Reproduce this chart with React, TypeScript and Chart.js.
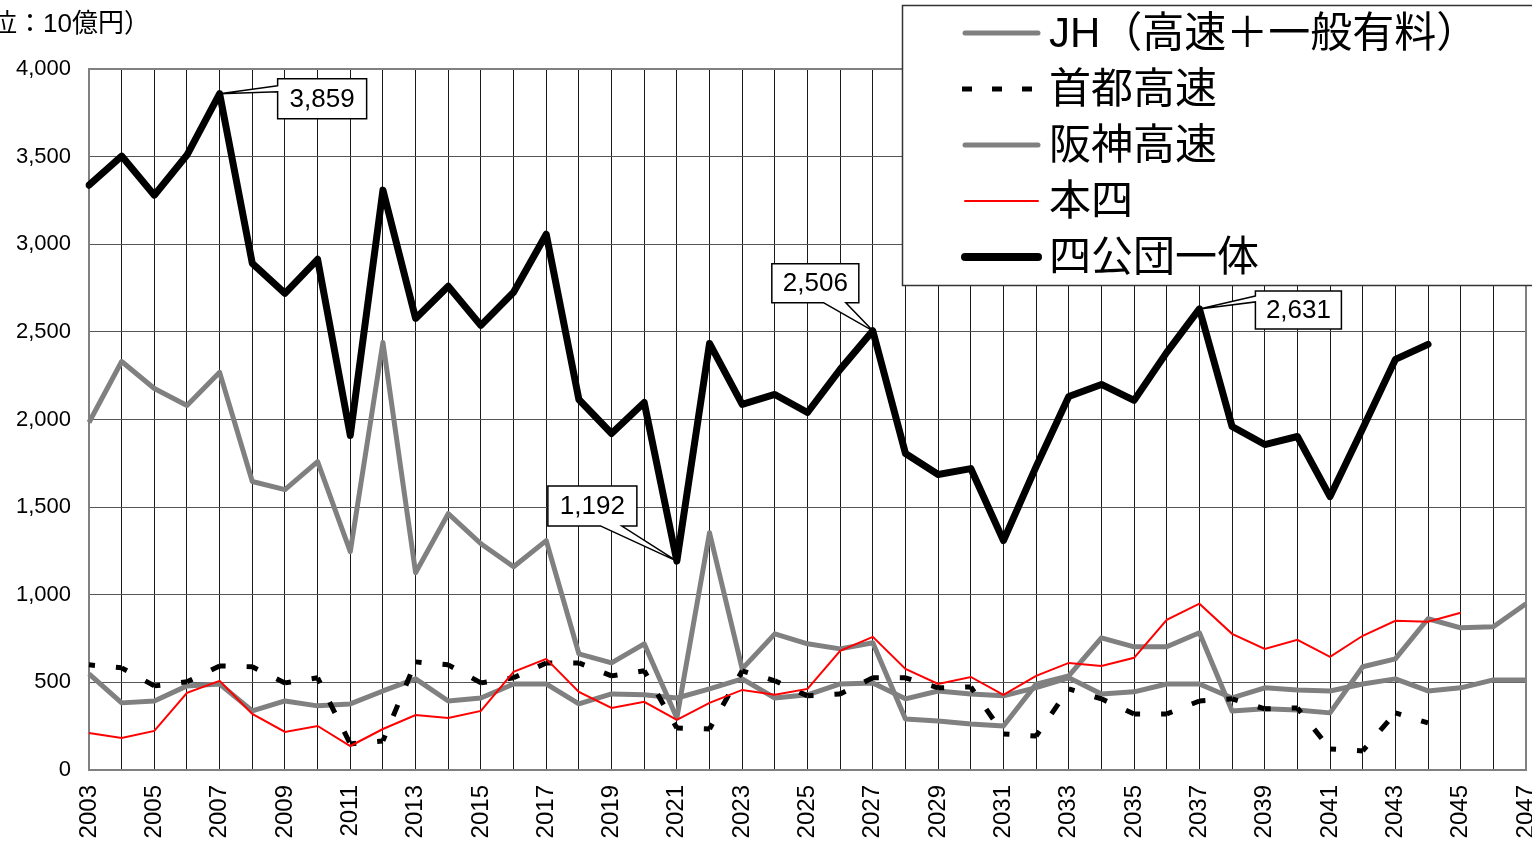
import React, { useEffect, useRef } from 'react';
import { Chart, registerables } from 'chart.js';

Chart.register(...registerables);

const years = [
  '2003', '2004', '2005', '2006', '2007', '2008', '2009', '2010', '2011', '2012',
  '2013', '2014', '2015', '2016', '2017', '2018', '2019', '2020', '2021', '2022',
  '2023', '2024', '2025', '2026', '2027', '2028', '2029', '2030', '2031', '2032',
  '2033', '2034', '2035', '2036', '2037', '2038', '2039', '2040', '2041', '2042',
  '2043', '2044', '2045', '2046', '2047',
];

const jh = [
  1983, 2331, 2177, 2080, 2269, 1646, 1600, 1760, 1246, 2440,
  1126, 1463, 1291, 1160, 1309, 663, 611, 720, 297, 1354,
  577, 777, 720, 691, 726, 291, 280, 263, 251, 490,
  537, 754, 703, 703, 783, 337, 349, 343, 326, 589,
  634, 863, 811, 817, 949,
];

const shuto = [
  600, 583, 480, 503, 594, 589, 497, 526, 149, 166,
  617, 600, 497, 526, 611, 611, 537, 566, 240, 234,
  566, 509, 423, 434, 526, 526, 469, 474, 206, 194,
  463, 406, 320, 320, 394, 406, 349, 354, 120, 109,
  326, 269, null, null, null,
];

const hanshin = [
  549, 383, 394, 480, 491, 337, 394, 366, 377, 451,
  520, 394, 411, 491, 491, 377, 434, 429, 411, 463,
  520, 411, 429, 491, 497, 406, 451, 434, 423, 470,
  526, 434, 446, 491, 491, 411, 469, 457, 451, 491,
  520, 451, 469, 514, 514,
];

const honshi = [
  211, 183, 223, 440, 509, 320, 217, 251, 137, 234,
  314, 297, 337, 560, 634, 446, 354, 389, 286, 383,
  457, 429, 463, 680, 760, 577, 491, 531, 429, 537,
  611, 594, 640, 857, 949, 777, 691, 743, 646, 766,
  851, 846, 897, null, null,
];

const yonKodan = [
  3337, 3503, 3280, 3509, 3859, 2891, 2720, 2914, 1909, 3309,
  2577, 2760, 2537, 2726, 3057, 2114, 1920, 2097, 1192, 2434,
  2086, 2143, 2040, 2286, 2506, 1806, 1686, 1720, 1309, 1731,
  2131, 2200, 2109, 2383, 2631, 1960, 1857, 1903, 1560, 1949,
  2343, 2429, null, null, null,
];

const yTicks = [0, 500, 1000, 1500, 2000, 2500, 3000, 3500, 4000];
const seriesNames = ['JH（高速＋一般有料）', '首都高速', '阪神高速', '本四', '四公団一体'];
const unitLabel = '（単位：10億円）';
const calloutYears = ['2007', '2021', '2027', '2037'];

const FONT = '"Liberation Sans", Arial, "Noto Sans CJK JP", sans-serif';

// styling for callouts (relative placement of each bubble to its point)
const calloutStyles = [
  { dx: 58, dy: -15, w: 89, h: 40, side: 'left', a: 7, b: 13 },
  { dx: -129, dy: -75, w: 89, h: 40, side: 'bottom', a: 53, b: 74 },
  { dx: -101, dy: -67, w: 87, h: 39, side: 'bottom', a: 52, b: 74 },
  { dx: 56, dy: -18, w: 86, h: 38, side: 'left', a: 5, b: 11 },
];

const legendStyles = [
  { color: '#808080', width: 5, dash: [] as number[] },
  { color: '#000000', width: 5, dash: [10, 20] },
  { color: '#808080', width: 5, dash: [] as number[] },
  { color: '#ff0000', width: 2, dash: [] as number[] },
  { color: '#000000', width: 8, dash: [] as number[] },
];

const decorPlugin = {
  id: 'decor',
  beforeDatasetsDraw(chart: any) {
    const { ctx, chartArea } = chart;
    ctx.save();
    ctx.strokeStyle = '#808080';
    ctx.lineWidth = 2;
    ctx.beginPath();
    ctx.moveTo(chartArea.left, chartArea.top);
    ctx.lineTo(chartArea.right, chartArea.top);
    ctx.lineTo(chartArea.right, chartArea.bottom);
    ctx.stroke();
    ctx.restore();
  },
  afterDraw(chart: any) {
    const { ctx } = chart;
    const xs = chart.scales.x;
    const ys = chart.scales.y;
    ctx.save();

    // unit label (cut at left edge as in the source)
    ctx.font = `26px ${FONT}`;
    ctx.fillStyle = '#000';
    ctx.textBaseline = 'middle';
    ctx.textAlign = 'left';
    const pre = ctx.measureText('（単').width;
    ctx.fillText(unitLabel, -9 - pre, 25);

    // callouts
    ctx.font = `26px ${FONT}`;
    calloutYears.forEach((yr, i) => {
      const idx = years.indexOf(yr);
      const v = yonKodan[idx] as number;
      const px = xs.getPixelForValue(idx);
      const py = ys.getPixelForValue(v);
      const s = calloutStyles[i];
      const L = px + s.dx;
      const T = py + s.dy;
      const R = L + s.w;
      const B = T + s.h;
      ctx.beginPath();
      if (s.side === 'left') {
        ctx.moveTo(L, T + s.a);
        ctx.lineTo(px, py);
        ctx.lineTo(L, T + s.b);
        ctx.lineTo(L, B);
        ctx.lineTo(R, B);
        ctx.lineTo(R, T);
        ctx.lineTo(L, T);
      } else {
        ctx.moveTo(L + s.a, B);
        ctx.lineTo(px, py);
        ctx.lineTo(L + s.b, B);
        ctx.lineTo(R, B);
        ctx.lineTo(R, T);
        ctx.lineTo(L, T);
        ctx.lineTo(L, B);
      }
      ctx.closePath();
      ctx.fillStyle = '#fff';
      ctx.fill();
      ctx.strokeStyle = '#000';
      ctx.lineWidth = 1.5;
      ctx.lineJoin = 'miter';
      ctx.stroke();
      ctx.fillStyle = '#000';
      ctx.textAlign = 'center';
      ctx.textBaseline = 'middle';
      ctx.fillText(v.toLocaleString('en-US'), (L + R) / 2, (T + B) / 2 + 1);
    });

    // legend box
    const boxL = 902.5;
    const boxT = 5.5;
    ctx.fillStyle = '#fff';
    ctx.fillRect(boxL, boxT, 700, 280);
    ctx.strokeStyle = '#333';
    ctx.lineWidth = 1.5;
    ctx.strokeRect(boxL, boxT, 700, 280);
    ctx.font = `42px ${FONT}`;
    ctx.textAlign = 'left';
    ctx.textBaseline = 'middle';
    seriesNames.forEach((name, i) => {
      const y = 33 + i * 56;
      const st = legendStyles[i];
      ctx.beginPath();
      ctx.setLineDash(st.dash);
      ctx.lineCap = st.dash.length ? 'butt' : 'round';
      ctx.strokeStyle = st.color;
      ctx.lineWidth = st.width;
      ctx.moveTo(i === 1 ? 962 : 965, y);
      ctx.lineTo(1038, y);
      ctx.stroke();
      ctx.setLineDash([]);
      ctx.fillStyle = '#000';
      ctx.fillText(name, 1049, y + 2);
    });
    ctx.restore();
  },
};

export default function App() {
  const canvasRef = useRef<HTMLCanvasElement | null>(null);

  useEffect(() => {
    const canvas = canvasRef.current;
    if (!canvas) return;
    const chart = new Chart(canvas, {
      type: 'line',
      data: {
        labels: years,
        datasets: [
          {
            label: seriesNames[0],
            data: jh,
            borderColor: '#808080',
            borderWidth: 5,
            pointRadius: 0,
            order: 4,
            borderJoinStyle: 'round',
          },
          {
            label: seriesNames[1],
            data: shuto,
            borderColor: '#000000',
            borderWidth: 5,
            pointRadius: 0,
            borderDash: [12, 21],
            borderDashOffset: 6,
            borderCapStyle: 'butt',
            order: 2,
            segment: {
              borderDashOffset: (c: any) => 6 + (c.p0DataIndex % 2) * 0.001,
            },
          },
          {
            label: seriesNames[2],
            data: hanshin,
            borderColor: '#808080',
            borderWidth: 5,
            pointRadius: 0,
            order: 3,
            borderJoinStyle: 'round',
          },
          {
            label: seriesNames[3],
            data: honshi,
            borderColor: '#ff0000',
            borderWidth: 2,
            pointRadius: 0,
            order: 1,
          },
          {
            label: seriesNames[4],
            data: yonKodan,
            borderColor: '#000000',
            borderWidth: 7,
            pointRadius: 0,
            order: 0,
            borderJoinStyle: 'round',
            borderCapStyle: 'round',
          },
        ],
      } as any,
      options: {
        animation: false,
        responsive: true,
        maintainAspectRatio: false,
        layout: { padding: { top: 69, right: 6, left: 0, bottom: 0 } },
        plugins: {
          legend: { display: false },
          tooltip: { enabled: false },
        },
        scales: {
          x: {
            type: 'category',
            offset: false,
            grid: { color: '#1a1a1a', lineWidth: 1, drawTicks: false },
            border: { display: true, color: '#808080', width: 2 },
            ticks: {
              autoSkip: false,
              maxRotation: 90,
              minRotation: 90,
              padding: 15,
              color: '#000',
              font: { family: FONT, size: 24 },
              callback: (_v: any, i: number) => (i % 2 === 0 ? years[i] : ''),
            },
            afterFit: (s: any) => {
              s.height = 73;
              s.paddingLeft = 0;
              s.paddingRight = 0;
            },
          },
          y: {
            min: 0,
            max: 4000,
            grid: { color: '#555', lineWidth: 1, drawTicks: false },
            border: { display: true, color: '#808080', width: 2 },
            afterBuildTicks: (s: any) => {
              s.ticks = yTicks.map((v) => ({ value: v }));
            },
            ticks: {
              padding: 18,
              color: '#000',
              font: { family: FONT, size: 22 },
              callback: (v: any) => Number(v).toLocaleString('en-US'),
            },
            afterFit: (s: any) => {
              s.width = 89;
              s.paddingTop = 0;
              s.paddingBottom = 0;
            },
          },
        },
      } as any,
      plugins: [decorPlugin],
    });
    return () => chart.destroy();
  }, []);

  return (
    <div style={{ position: 'absolute', left: 0, top: 0, width: 1532, height: 843, background: '#fff' }}>
      <canvas ref={canvasRef} />
    </div>
  );
}
